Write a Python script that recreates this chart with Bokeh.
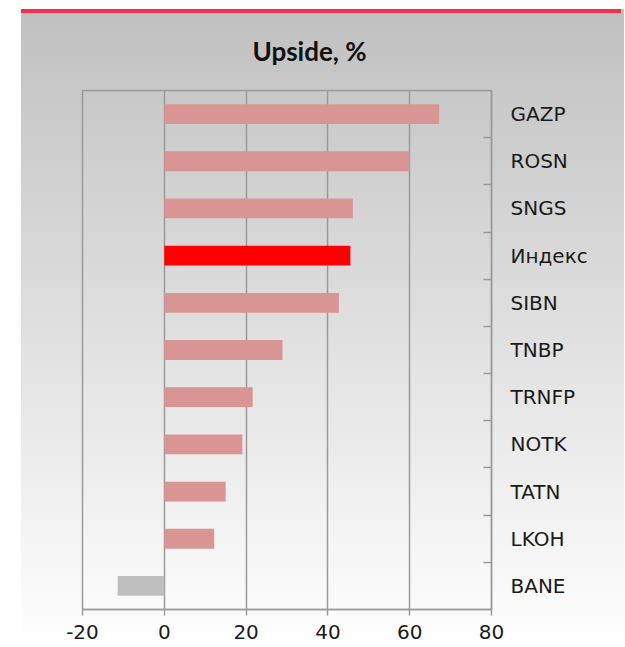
from bokeh.plotting import figure
from bokeh.models import FixedTicker, Range1d, ColumnDataSource
from bokeh.embed import file_html
from bokeh.resources import INLINE

# ---- data ----
tickers = ["GAZP", "ROSN", "SNGS", "Индекс", "SIBN", "TNBP", "TRNFP", "NOTK", "TATN", "LKOH", "BANE"]
upside = [67.2, 60.0, 46.1, 45.5, 42.7, 28.9, 21.6, 19.1, 15.0, 12.2, -11.4]
x_ticks = [-20, 0, 20, 40, 60, 80]
x_tick_labels = ["-20", "0", "20", "40", "60", "80"]
title_text = "Upside, %"

PINK = "#d99594"
RED = "#ff0000"
GRAY_BAR = "#bfbfbf"
LINE = "#9a9a9a"

n = len(tickers)
ypos = [n - 1 - i for i in range(n)]
colors = [RED if t == "Индекс" else (GRAY_BAR if v < 0 else PINK) for t, v in zip(tickers, upside)]
src = ColumnDataSource(dict(y=ypos, v=upside, c=colors, t=tickers))

p = figure(
    width=603, height=638,
    x_range=Range1d(x_ticks[0], x_ticks[-1]),
    y_range=Range1d(-0.5, n - 0.5),
    output_backend="svg", toolbar_location=None,
    x_axis_location="below", y_axis_location="right",
    min_border_left=61, min_border_right=133, min_border_top=80, min_border_bottom=38,
    margin=(9, 0, 0, 21),
)
p.styles = {
    "background-image": "linear-gradient(#f0304c, #f0304c), linear-gradient(to bottom, #c0c0c0 0%, #ffffff 100%)",
    "background-size": "600px 4px, 100% 100%",
    "background-repeat": "no-repeat",
    "background-position": "0 0, 0 0",
}
p.border_fill_color = None
p.background_fill_color = None
p.outline_line_color = LINE
p.outline_line_width = 1.5

p.hbar(y="y", left=0, right="v", height=0.42, fill_color="c", line_color=None, source=src)

# title
p.title.text = title_text
p.title.text_font = "Lato"
p.title.text_font_style = "bold"
p.title.text_font_size = "26px"
p.title.text_color = "#111111"
p.title.align = "left"
p.title.offset = 170
p.title.standoff = 47

# x axis
xa = p.xaxis[0]
xa.ticker = FixedTicker(ticks=x_ticks)
xa.major_label_overrides = {t: s for t, s in zip(x_ticks, x_tick_labels)}
xa.axis_line_color = LINE
xa.axis_line_width = 1.5
xa.major_tick_line_color = LINE
xa.major_tick_line_width = 1.5
xa.major_tick_in = 0
xa.major_tick_out = 6
xa.minor_tick_line_color = None
xa.major_label_standoff = 9
xa.major_label_text_font = "DejaVu Sans"
xa.major_label_text_font_size = "20px"
xa.major_label_text_color = "#1a1a1a"

# y axis (right): labels at category centres, tick marks at boundaries
ya = p.yaxis[0]
ya.ticker = FixedTicker(ticks=ypos, minor_ticks=[y + 0.5 for y in ypos[1:]])
ya.major_label_overrides = {y: t for y, t in zip(ypos, tickers)}
ya.axis_line_color = LINE
ya.axis_line_width = 1.5
ya.major_tick_line_color = None
ya.minor_tick_line_color = LINE
ya.minor_tick_line_width = 1.5
ya.minor_tick_in = 8
ya.minor_tick_out = 0
ya.major_label_standoff = 13
ya.major_label_text_font = "DejaVu Sans"
ya.major_label_text_font_size = "20px"
ya.major_label_text_color = "#1a1a1a"

p.xgrid.ticker = FixedTicker(ticks=x_ticks)
p.xgrid.grid_line_color = LINE
p.xgrid.grid_line_width = 1.5
p.ygrid.visible = False

open("out.html", "w").write(file_html(p, INLINE))
